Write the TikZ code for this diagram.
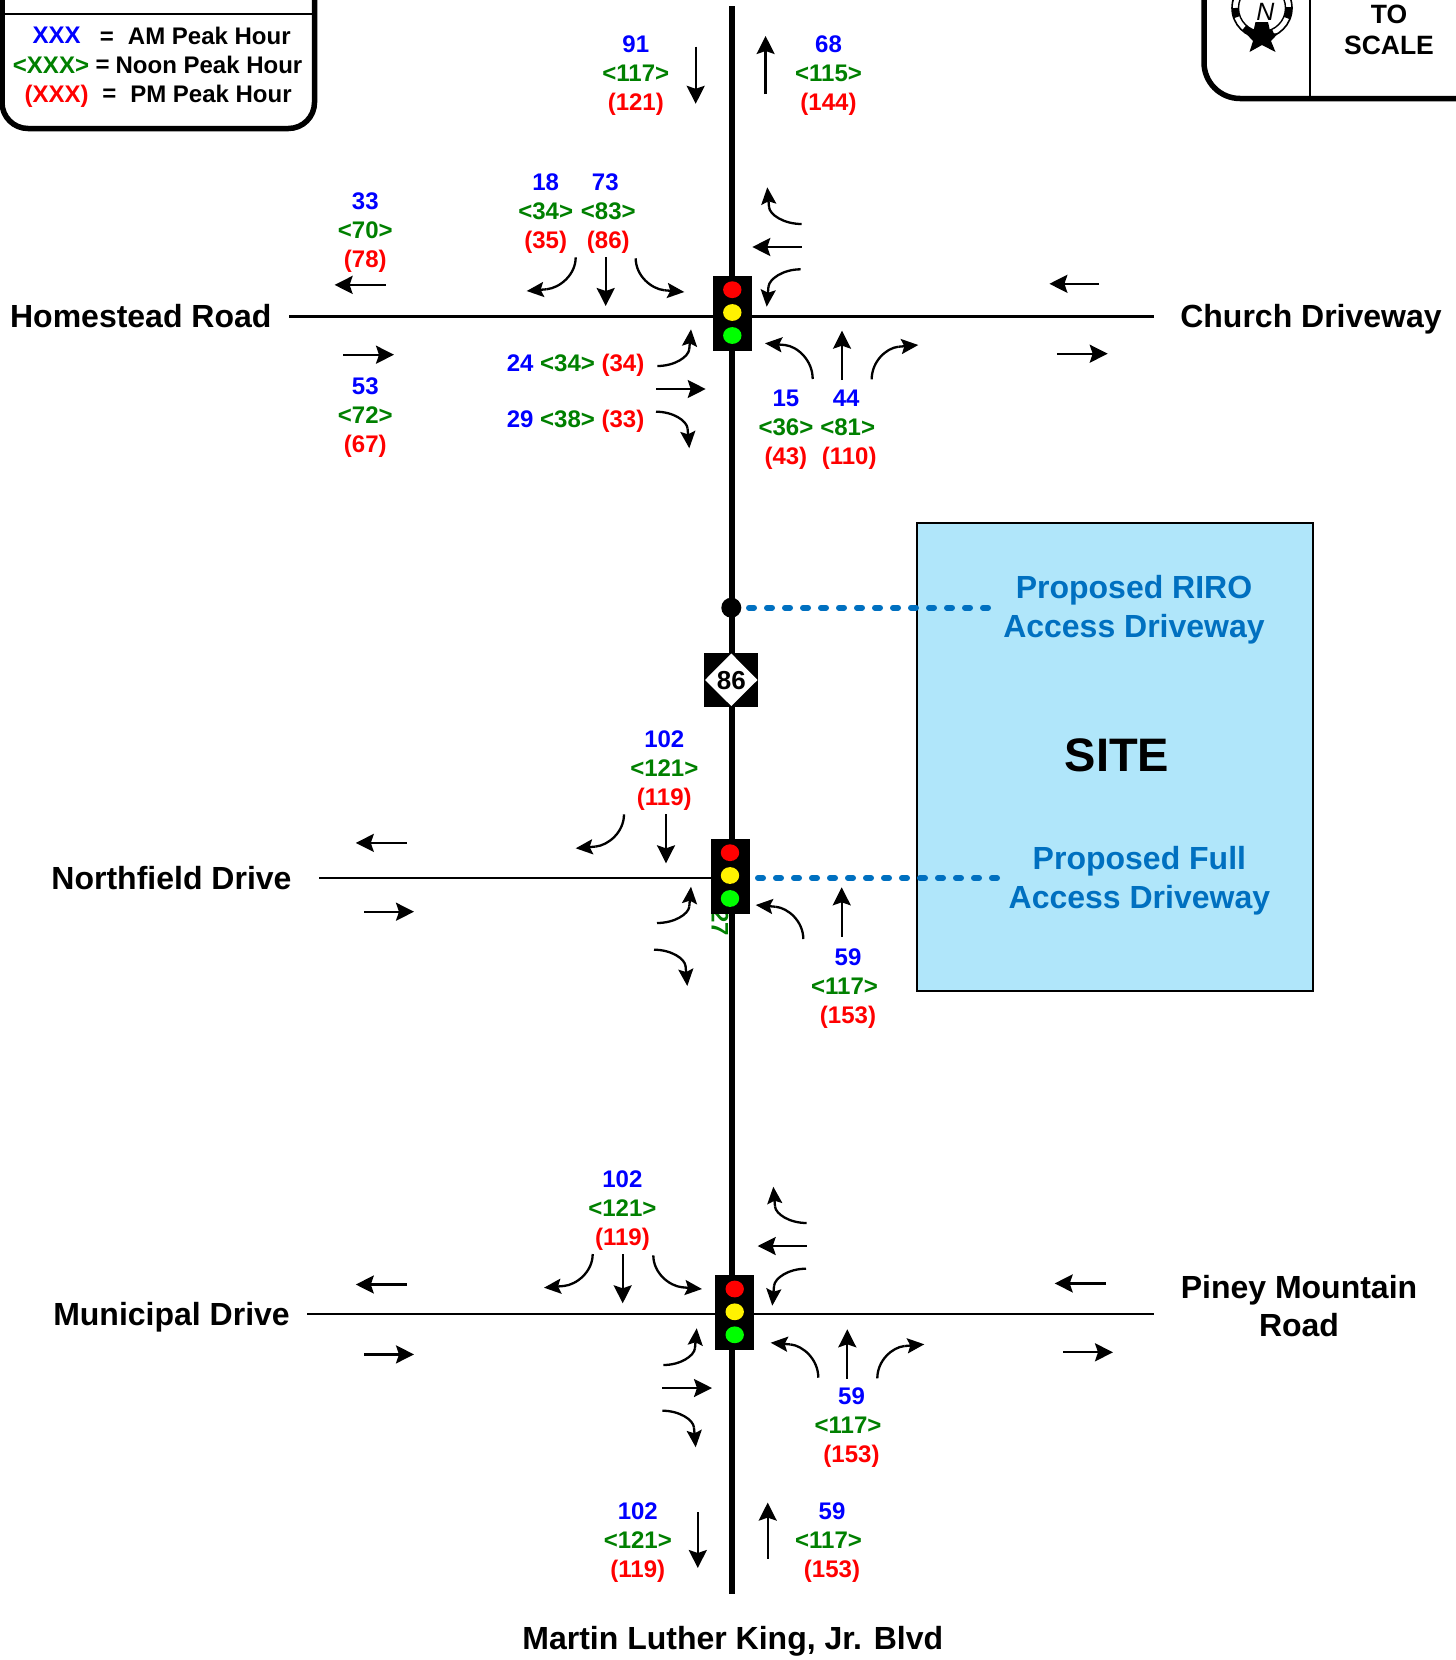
\documentclass[tikz,border=0pt]{standalone}
\usepackage{fontspec}
\setmainfont{Liberation Sans}
\usetikzlibrary{arrows.meta}
\definecolor{amcol}{RGB}{0,0,255}
\definecolor{nooncol}{RGB}{0,128,0}
\definecolor{pmcol}{RGB}{255,0,0}
\definecolor{sitefill}{RGB}{176,230,250}
\definecolor{drivecol}{RGB}{0,112,192}
\tikzset{
  flow/.style={line width=2.3pt,draw=black,-{Stealth[length=18pt,width=18pt,inset=3pt]}},
  curvehead/.style={line width=2.3pt,draw=black,-{Stealth[length=17pt,width=15pt,inset=3pt]}},
  flowline/.style={line width=2.3pt,draw=black},
  road/.style={line width=2.6pt,draw=black},
  mainroad/.style={line width=6pt,draw=black},
  access/.style={line width=6pt,draw=drivecol,line cap=round,dash pattern=on 5pt off 13pt},
  lab/.style={font=\fontsize{32}{38}\bfseries\selectfont,align=center,text=black,inner sep=0pt},
  sitelab/.style={font=\fontsize{32}{39}\bfseries\selectfont,align=center,inner sep=0pt,text=drivecol},
  vol/.style={font=\fontsize{24}{29}\bfseries\selectfont,align=center,inner sep=0pt},
  lgd/.style={font=\fontsize{24}{29}\bfseries\selectfont,inner sep=0pt},
  boxline/.style={line width=5.5pt,draw=black},
  thinbox/.style={line width=2.5pt,draw=black},
}
\newcommand{\volA}[1]{\textcolor{amcol}{#1}}
\newcommand{\volN}[1]{\textcolor{nooncol}{<#1>}}
\newcommand{\volP}[1]{\textcolor{pmcol}{(#1)}}
\newcommand{\tri}[6]{\node[vol] (#1) at (#2,#3+2.8) {\volA{#4}\\\volN{#5}\\\volP{#6}};}
\newcommand{\triG}[6]{\node[vol] (#1) at (#2,#3+2.8) {\volA{#4}\\\hspace*{-7pt}\volN{#5}\\\volP{#6}};}
\newcommand{\fl}[4]{\draw[flow] (#1,#2) -- (#3,#4);}
% curved flow: leaves horizontally, ends in a nearly vertical head
\newcommand{\curveHV}[4]{%
  \pgfmathsetmacro{\sx}{(#3>#1)?1:-1}\pgfmathsetmacro{\sy}{(#4>#2)?1:-1}%
  \pgfmathsetmacro{\bx}{#3-1.74*\sx}\pgfmathsetmacro{\by}{#4-19.9*\sy}%
  \pgfmathsetmacro{\cax}{#1+0.55*(\bx-#1)}%
  \pgfmathsetmacro{\cbx}{\bx-0.45*abs(\by-#2)*0.1*\sx}\pgfmathsetmacro{\cby}{\by-0.45*(\by-#2)}%
  \draw[flowline] (#1,#2) .. controls (\cax,#2) and (\cbx,\cby) .. (\bx,\by);
  \draw[curvehead] (\bx,\by) -- (#3,#4);}
% curved flow: leaves vertically, ends in a nearly horizontal head
\newcommand{\curveVH}[4]{%
  \pgfmathsetmacro{\sx}{(#3>#1)?1:-1}\pgfmathsetmacro{\sy}{(#4>#2)?1:-1}%
  \pgfmathsetmacro{\bx}{#3-19.9*\sx}\pgfmathsetmacro{\by}{#4-1.74*\sy}%
  \pgfmathsetmacro{\cay}{#2+0.55*(\by-#2)}%
  \pgfmathsetmacro{\cbx}{\bx-0.45*(\bx-#1)}\pgfmathsetmacro{\cby}{\by-0.45*abs(\bx-#1)*0.1*\sy}%
  \draw[flowline] (#1,#2) .. controls (#1,\cay) and (\cbx,\cby) .. (\bx,\by);
  \draw[curvehead] (\bx,\by) -- (#3,#4);}
\newcommand{\signal}[6]{%
  \fill[black] (#1,#2) rectangle (#3,#4);
  \fill[red]    (#5,#6) ellipse [x radius=9.2pt,y radius=8.4pt];
  \fill[yellow] (#5,#6+22.8) ellipse [x radius=9.2pt,y radius=8.4pt];
  \fill[green]  (#5,#6+45.8) ellipse [x radius=9.2pt,y radius=8.4pt];
}
\newcommand{\ringarc}[2]{\draw[line width=6.5pt,draw=black] plot[domain=#1:#2,samples=16] ({1262+26.75*cos(\x)},{8+26.75*sin(\x)});}
\begin{document}
\begin{tikzpicture}[x=1pt,y=-1pt]
\useasboundingbox (0,0) rectangle (1456,1660);
\clip (0,0) rectangle (1456,1660);
\fill[white] (0,0) rectangle (1456,1660);

% site
\draw[fill=sitefill,draw=black,line width=1.8pt] (917,523) rectangle (1313,991);

% legend box
\draw[boxline,rounded corners=26pt] (2,-40) -- (2,128.5) -- (314.5,128.5) -- (314.5,-40);
\draw[thinbox] (2,14) -- (314.5,14);
\node[lgd,text=amcol] (l1a) at (56.7,35.7) {XXX};
\node[lgd] (l1b) at (107,38) {=};
\node[lgd] (l1c) at (209.3,35.7) {AM Peak Hour};
\node[lgd,text=nooncol] (l2a) at (51,65) {<XXX>};
\node[lgd] (l2b) at (102.7,66) {=};
\node[lgd] (l2c) at (209,65) {Noon Peak Hour};
\node[lgd,text=pmcol] (l3a) at (56.7,96) {(XXX)};
\node[lgd] (l3b) at (109.3,95.5) {=};
\node[lgd] (l3c) at (211,94.3) {PM Peak Hour};

% north box
\draw[boxline,rounded corners=36pt] (1204,-40) -- (1204,98.5) -- (1500,98.5);
\draw[thinbox] (1310,-5) -- (1310,98.5);
\draw[line width=1.6pt,draw=black,fill=white] (1262,8) circle [radius=30pt];
\ringarc{-2}{22}\ringarc{65}{132}\ringarc{160}{180}
\fill[white] (1262,8) circle [radius=23.5pt];
\draw[line width=1.4pt,draw=black] (1262,8) circle [radius=23.5pt];
\node[inner sep=0pt,font=\fontsize{25}{28}\itshape\selectfont] (north) at (1265.5,12) {N};
\fill[black] (1255.5,22) -- (1268,22) -- (1270.5,33) -- (1278,33.5) -- (1271,41) -- (1275.5,52) -- (1262,45) -- (1249.5,52) -- (1253,41) -- (1246,33.5) -- (1253,33) -- cycle;
\node[lab,font=\fontsize{26.5}{31.7}\bfseries\selectfont] (scale) at (1389,30) {TO\\SCALE};

% hidden text under the middle signal
\node[vol,rotate=-90,anchor=east,text=nooncol] (hidden) at (720,936) {27};

% roads
\draw[mainroad] (731.5,6) -- (731.5,1594);
\draw[road] (289,316.7) -- (1154,316.7);
\draw[road] (319,878) -- (720,878);
\draw[road] (307,1314) -- (1154,1314);

% access
\draw[access] (749,607.7) -- (991,607.7);
\draw[access] (758,878) -- (999,878);
\fill[black] (731.3,607.7) circle [radius=10pt];

% route sign
\fill[black] (704.3,652.7) rectangle (758.3,707);
\fill[white] (731.3,653.5) -- (757.5,680) -- (731.3,706) -- (705,680) -- cycle;
\node[inner sep=0pt,font=\fontsize{26}{28}\bfseries\selectfont] (route) at (731.3,681) {86};

% signals
\signal{713}{276}{752.3}{351}{732.3}{289.7}
\signal{710.7}{839.3}{749.7}{913.7}{730}{852.7}
\signal{715}{1275}{754}{1350}{734.7}{1289}

% road names
\node[lab] (homestead) at (140.8,316) {Homestead Road};
\node[lab] (church) at (1311,319.6) {Church Driveway};
\node[lab] (northfield) at (171.5,878.5) {Northfield Drive};
\node[lab] (municipal) at (171.5,1317) {Municipal Drive};
\node[lab] (piney) at (1299,1306) {Piney Mountain\\Road};
\node[lab] (mlk) at (732.8,1641) {Martin Luther King, Jr. Blvd};
\node[sitelab] (riro) at (1134,609.5) {Proposed RIRO\\Access Driveway};
\node[sitelab] (full) at (1139.4,881) {Proposed Full\\Access Driveway};
\node[lab,font=\fontsize{47}{50}\bfseries\selectfont] (site) at (1117,755) {SITE};

% north end
\tri{a1}{635.8}{73}{91}{117}{121}
\tri{a2}{828.5}{73}{68}{115}{144}
\fl{695.7}{46.6}{695.7}{103.8}
\fl{765.6}{94}{765.6}{36}

% Homestead
\tri{b1}{365.3}{229.8}{33}{70}{78}
\tri{b2}{365.3}{415}{53}{72}{67}
\tri{b3}{545.7}{210.7}{18}{34}{35}
\tri{b4}{608.3}{210.7}{\hspace*{-6pt}73}{83}{86}
\tri{b5}{785.9}{427.3}{15}{36}{43}
\node[vol] (b6) at (847.7,430.1) {\hspace*{-3pt}\volA{44}\\\volN{81}\\\hspace*{3pt}\volP{110}};
\node[vol,anchor=east] (b7) at (644.5,365) {\volA{24} \volN{34} \volP{34}};
\node[vol,anchor=east] (b8) at (644.5,421.5) {\volA{29} \volN{38} \volP{33}};
\fl{385.5}{284.9}{334.6}{284.9}
\fl{343}{354.7}{394}{354.7}
\curveVH{575.7}{257.3}{526.7}{291}
\fl{605.7}{257.3}{605.7}{306}
\curveVH{635.7}{258.3}{684.3}{292}
\curveHV{801.7}{224}{767.3}{187.3}
\fl{801.7}{247}{752.3}{247}
\curveHV{800.7}{269.3}{766.7}{306.7}
\curveHV{657.3}{366}{691}{329.3}
\fl{656}{389}{705.7}{389}
\curveHV{656}{411.7}{689.3}{448.3}
\curveVH{812.7}{379}{765}{343.3}
\fl{842}{380}{842}{330.7}
\curveVH{871.7}{379.3}{918.3}{345}
\fl{1099}{283.8}{1049.4}{283.8}
\fl{1056.8}{353.7}{1107.7}{353.7}

% Northfield
\tri{c1}{664.3}{767.7}{102}{121}{119}
\triG{c2}{848}{985.9}{59}{117}{153}
\curveVH{624}{814.3}{575.7}{848.3}
\fl{666}{814}{666}{863.3}
\fl{406.6}{842.9}{355.8}{842.9}
\fl{364.3}{911.7}{414}{911.7}
\curveHV{657}{923}{691}{886.7}
\curveHV{654}{949.7}{687.3}{986}
\curveVH{803.3}{939}{755.7}{905}
\fl{841.7}{936.7}{841.7}{887.3}

% Municipal
\tri{d1}{622.4}{1207.5}{102}{121}{119}
\triG{d2}{851.5}{1425}{59}{117}{153}
\curveVH{592.7}{1254}{544}{1287.7}
\fl{622.7}{1254}{622.7}{1303.3}
\curveVH{653.3}{1255.3}{702}{1289}
\curveHV{806.7}{1223}{773.3}{1186.7}
\fl{806.7}{1246}{757.7}{1246}
\curveHV{806}{1268.7}{772.3}{1305.7}
\curveHV{663.3}{1365}{696.7}{1328.3}
\fl{662.3}{1388}{712}{1388}
\curveHV{662.3}{1410.7}{695.7}{1447.3}
\curveVH{818.3}{1377.7}{770.7}{1342.7}
\fl{847.3}{1378.7}{847.3}{1329.3}
\curveVH{877.3}{1378.3}{924.3}{1344.3}
\fl{406.6}{1284.5}{355.8}{1284.5}
\fl{364.3}{1354.4}{414}{1354.4}
\fl{1105.5}{1283.4}{1054.7}{1283.4}
\fl{1063}{1352.3}{1113}{1352.3}

% south end
\tri{e1}{637.8}{1539.7}{102}{121}{119}
\triG{e2}{832}{1539.7}{59}{117}{153}
\fl{697.8}{1512}{697.8}{1568}
\fl{767.7}{1558.7}{767.7}{1502.6}
\end{tikzpicture}
\end{document}
